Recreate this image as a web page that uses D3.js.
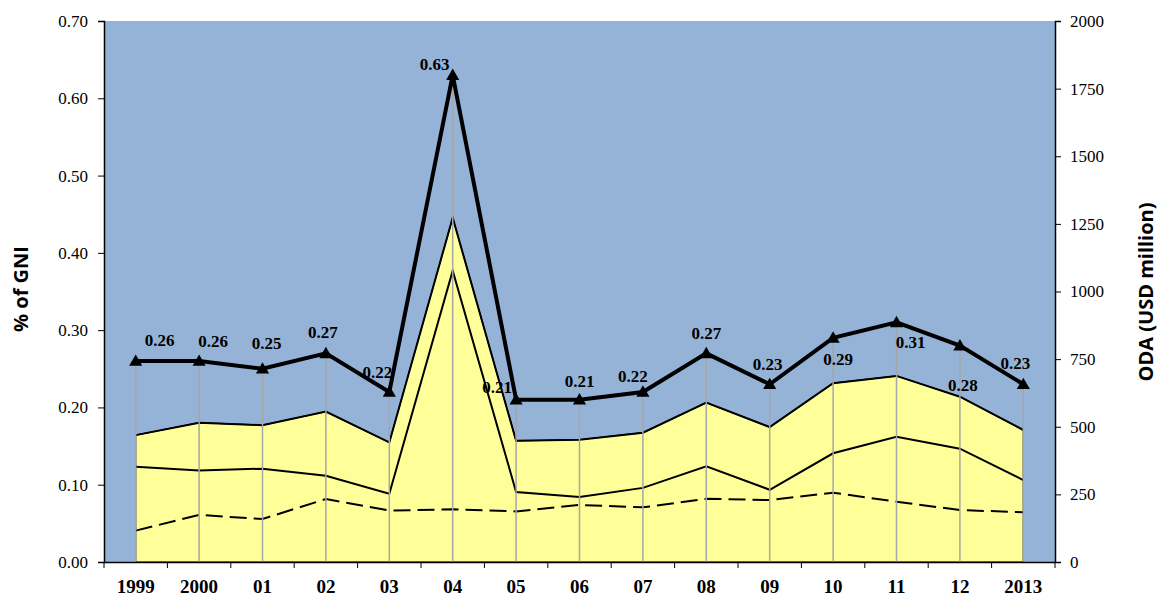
<!DOCTYPE html>
<html>
<head>
<meta charset="utf-8">
<script src="https://cdn.jsdelivr.net/npm/d3@7"></script>
<style>
  body { margin: 0; background: #fff; }
  svg { display: block; }
  .tick text { font-family: "Liberation Serif", "Times New Roman", serif; font-size: 17px; fill: #000; }
  .x-axis .tick text { font-weight: bold; font-size: 19px; }
  .axis-title { font-family: "Open Sans", "Liberation Sans", sans-serif; font-weight: bold; font-size: 20px; }
  .pt-label { font-family: "Liberation Serif", "Times New Roman", serif; font-weight: bold; font-size: 17px; }
</style>
</head>
<body>
<div id="chart"></div>
<script>
const years = ['1999', '2000', '01', '02', '03', '04', '05', '06', '07', '08', '09', '10', '11', '12', '2013'];
// ODA % of GNI (left axis)
const gniShare = [0.26, 0.26, 0.25, 0.27, 0.22, 0.63, 0.21, 0.21, 0.22, 0.27, 0.23, 0.29, 0.31, 0.28, 0.23];
// ODA, USD million (right axis)
const odaTotal = [469, 515, 506, 556, 442, 1273, 448, 452, 478, 589, 499, 661, 688, 611, 488];
const odaMiddle = [352, 338, 345, 319, 252, 1077, 259, 240, 274, 354, 267, 402, 463, 419, 303];
const odaLower = [116, 174, 159, 233, 190, 195, 187, 211, 202, 234, 229, 256, 223, 192, 184];
const leftTicks = [0, 0.1, 0.2, 0.3, 0.4, 0.5, 0.6, 0.7];
const rightTicks = [0, 250, 500, 750, 1000, 1250, 1500, 1750, 2000];
// label offsets (dx, dy) from each marker, as placed in the original
const labelOffsets = [[24, -15], [14, -14], [4, -20], [-3, -15], [-12, -14], [-18, -5], [-19, -7], [0, -13],
  [-10, -10], [0, -14], [-2, -14], [5, 27], [14, 26], [3, 45], [-8, -15]];

const width = 1162, height = 597;
const margin = { top: 21, right: 107, bottom: 35, left: 104 };
const innerW = width - margin.left - margin.right;
const innerH = height - margin.top - margin.bottom;

const svg = d3.select('#chart').append('svg').attr('width', width).attr('height', height);
const g = svg.append('g').attr('transform', `translate(${margin.left},${margin.top})`);

const x = d3.scaleBand().domain(years).range([0, innerW]).padding(0);
const cx = (i) => x(years[i]) + x.bandwidth() / 2;
const yL = d3.scaleLinear().domain([0, 0.7]).range([innerH, 0]);
const yR = d3.scaleLinear().domain([0, 2000]).range([innerH, 0]);

g.append('rect').attr('width', innerW).attr('height', innerH).attr('fill', '#95b3d7');

const area = d3.area().x((d, i) => cx(i)).y0(innerH).y1((d) => yR(d));
g.append('path').datum(odaTotal).attr('d', area).attr('fill', '#ffff99')
  .attr('stroke', '#000').attr('stroke-width', 1.2);

const line = (scale) => d3.line().x((d, i) => cx(i)).y((d) => scale(d));
g.append('path').datum(odaTotal).attr('d', line(yR)).attr('fill', 'none').attr('stroke', '#000').attr('stroke-width', 2);
g.append('path').datum(odaMiddle).attr('d', line(yR)).attr('fill', 'none').attr('stroke', '#000').attr('stroke-width', 2);
g.append('path').datum(odaLower).attr('d', line(yR)).attr('fill', 'none').attr('stroke', '#000')
  .attr('stroke-width', 2).attr('stroke-dasharray', '17,7');

// drop lines
g.selectAll('line.drop').data(gniShare).join('line').attr('class', 'drop')
  .attr('x1', (d, i) => cx(i)).attr('x2', (d, i) => cx(i))
  .attr('y1', (d) => yL(d)).attr('y2', innerH)
  .attr('stroke', '#a6a6a6').attr('stroke-width', 1.5);

g.append('path').datum(gniShare).attr('d', line(yL)).attr('fill', 'none').attr('stroke', '#000')
  .attr('stroke-width', 4).attr('stroke-linejoin', 'miter');

g.selectAll('path.marker').data(gniShare).join('path').attr('class', 'marker')
  .attr('d', d3.symbol(d3.symbolTriangle, 75))
  .attr('transform', (d, i) => `translate(${cx(i)},${yL(d) + 1})`)
  .attr('fill', '#000');

g.selectAll('text.pt-label').data(gniShare).join('text').attr('class', 'pt-label')
  .attr('x', (d, i) => cx(i) + labelOffsets[i][0])
  .attr('y', (d, i) => yL(d) + labelOffsets[i][1])
  .attr('text-anchor', 'middle')
  .text((d) => d.toFixed(2));

// axes
const xAxis = g.append('g').attr('class', 'x-axis').attr('transform', `translate(0,${innerH})`)
  .call(d3.axisBottom(x).tickSize(0).tickPadding(18));
xAxis.select('.domain').attr('stroke', '#000').attr('stroke-width', 1.5);
xAxis.selectAll('line.cat-tick').data(d3.range(years.length + 1)).join('line').attr('class', 'cat-tick')
  .attr('x1', (d) => d * x.step()).attr('x2', (d) => d * x.step()).attr('y1', 0).attr('y2', 6)
  .attr('stroke', '#000');

const leftAxis = g.append('g')
  .call(d3.axisLeft(yL).tickValues(leftTicks).tickFormat(d3.format('.2f')).tickSizeOuter(0).tickSize(6).tickPadding(10));
const rightAxis = g.append('g').attr('transform', `translate(${innerW},0)`)
  .call(d3.axisRight(yR).tickValues(rightTicks).tickFormat(d3.format('d')).tickSizeOuter(0).tickSize(6).tickPadding(9));
[leftAxis, rightAxis].forEach((a) => {
  a.select('.domain').attr('stroke', '#000').attr('stroke-width', 1.5);
  a.selectAll('.tick line').attr('stroke', '#000');
});

svg.append('text').attr('class', 'axis-title').attr('text-anchor', 'middle')
  .attr('transform', `translate(28,289) rotate(-90)`).text('% of GNI');
svg.append('text').attr('class', 'axis-title').attr('text-anchor', 'middle')
  .attr('transform', `translate(1153,292) rotate(-90)`).text('ODA (USD million)');
</script>
</body>
</html>
